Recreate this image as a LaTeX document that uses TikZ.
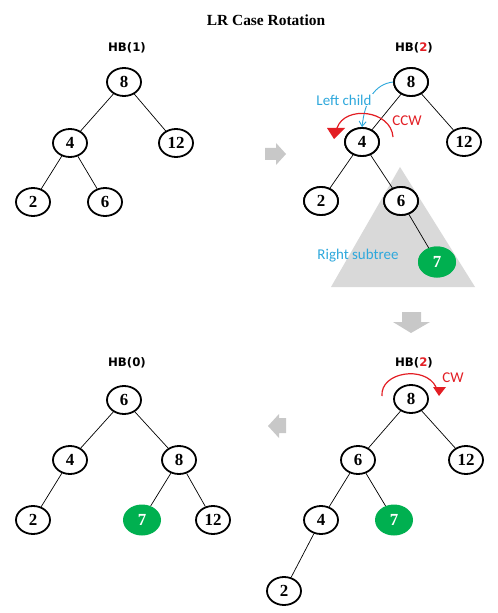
\documentclass[tikz,border=0pt]{standalone}
\usepackage{fontspec}
\setmainfont{Liberation Serif}
\newfontfamily\hbf{DejaVu Sans}
\newfontfamily\calf{Carlito}
\usetikzlibrary{shapes.geometric,arrows.meta}
\definecolor{myred}{HTML}{E31E24}
\definecolor{mycyan}{HTML}{2EA8DC}
\definecolor{mygreen}{HTML}{00B050}
\definecolor{arrgray}{HTML}{C8C8C8}
\definecolor{trigray}{HTML}{D9D9D9}
\tikzset{
  nd/.style={ellipse, draw=black, fill=white, line width=1.8bp, minimum width=34bp, minimum height=28bp, inner sep=0pt,
    font=\fontsize{17}{17}\selectfont\bfseries},
  gn/.style={ellipse, fill=mygreen, text=white, minimum width=38bp, minimum height=31bp, inner sep=0pt,
    font=\fontsize{17}{17}\selectfont\bfseries},
  hb/.style={font=\hbf\fontsize{11.8}{12}\selectfont\bfseries, inner sep=0pt},
  cal/.style={font=\calf\fontsize{15}{15}\selectfont, inner sep=1pt},
  edge/.style={line width=0.7bp, black},
  blockarrow/.style={fill=arrgray, draw=none},
}
\begin{document}
\begin{tikzpicture}[x=1bp,y=-1bp]
\useasboundingbox (0,0) rectangle (498,613);
\fill[white] (0,0) rectangle (498,613);

% title
\node[font=\fontsize{15.5}{16}\selectfont\bfseries, inner sep=0pt] (title) at (266,20) {LR Case Rotation};

% ---------- top-left tree ----------
\node[hb] (hb1) at (127,48) {HB(1)};
\node[nd] (a8) at (124,82) {8};
\node[nd] (a4) at (70,143) {4};
\node[nd] (a12) at (176,143) {12};
\node[nd] (a2) at (33,202) {2};
\node[nd] (a6) at (105,202) {6};
\draw[edge] (a8) -- (a4);
\draw[edge] (a8) -- (a12);
\draw[edge] (a4) -- (a2);
\draw[edge] (a4) -- (a6);

% ---------- top-right tree ----------
\fill[trigray] (400,167) -- (331,287) -- (475,287) -- cycle;
\node[hb] (hb2a) at (414,48) {HB(\textcolor{myred}{2})};
\node[nd] (b8) at (411,82) {8};
\node[nd] (b4) at (362,142) {4};
\node[nd] (b12) at (464,142) {12};
\node[nd] (b2) at (321,201) {2};
\node[nd] (b6) at (401,201) {6};
\node[gn] (b7) at (437,262) {7};
\draw[edge] (b8) -- (b4);
\draw[edge] (b8) -- (b12);
\draw[edge] (b4) -- (b2);
\draw[edge] (b4) -- (b6);
\draw[edge] (b6) -- (b7);
\node[nd] at (b8) {8};
\node[nd] at (b4) {4};
\node[nd] at (b2) {2};
\node[nd] at (b6) {6};
\node[gn] at (b7) {7};

\draw[mycyan, line width=0.9bp, -{Straight Barb[length=5bp,width=7bp]}]
  (b8.west) .. controls (375,84) and (365,100) .. (b4.north);
\node[cal, text=mycyan, fill=white] (lc) at (344,100) {Left child};
\node[cal, text=mycyan] (rs) at (358,256) {Right subtree};
\node[cal, text=myred] (ccw) at (407,121) {CCW};

\coordinate (ccwA) at (393,137);
\coordinate (ccwB) at (337,128);
\draw[myred, line width=1.2bp] (ccwA) .. controls (391,110) and (345,105) .. (ccwB);
\fill[myred] (327,128) -- (345,128) -- (334,139) -- cycle;

% ---------- block arrows ----------
\fill[blockarrow] (265,148) -- (276,148) -- (276,143) -- (286,154) -- (276,165) -- (276,160) -- (265,160) -- cycle;
\fill[blockarrow] (402,312) -- (421,312) -- (421,322) -- (430,322) -- (411,333) -- (393,322) -- (402,322) -- cycle;
\fill[blockarrow] (286,418) -- (279,418) -- (279,414) -- (268,426) -- (279,438) -- (279,433) -- (286,433) -- cycle;

% ---------- bottom-right tree ----------
\node[hb] (hb2b) at (414,363) {HB(\textcolor{myred}{2})};
\node[nd] (c8) at (411,399) {8};
\node[nd] (c6) at (358,460) {6};
\node[nd] (c12) at (466,460) {12};
\node[nd] (c4) at (321,520) {4};
\node[gn] (c7) at (394,520) {7};
\node[nd] (c2) at (284,591) {2};
\draw[edge] (c8) -- (c6);
\draw[edge] (c8) -- (c12);
\draw[edge] (c6) -- (c4);
\draw[edge] (c6) -- (c7);
\draw[edge] (c4) -- (c2);
\node[cal, text=myred] (cw) at (453,378) {CW};
\coordinate (cwA) at (382,396);
\coordinate (cwB) at (436,387);
\draw[myred, line width=1.2bp] (cwA) .. controls (380,372) and (425,365) .. (cwB);
\fill[myred] (433,387) -- (446,387) -- (439,396) -- cycle;

% ---------- bottom-left tree ----------
\node[hb] (hb0) at (127,363) {HB(0)};
\node[nd] (d6) at (124,400) {6};
\node[nd] (d4) at (70,460) {4};
\node[nd] (d8) at (179,460) {8};
\node[nd] (d2) at (33,520) {2};
\node[gn] (d7) at (142,520) {7};
\node[nd] (d12) at (213,520) {12};
\draw[edge] (d6) -- (d4);
\draw[edge] (d6) -- (d8);
\draw[edge] (d4) -- (d2);
\draw[edge] (d8) -- (d7);
\draw[edge] (d8) -- (d12);
\end{tikzpicture}
\end{document}
